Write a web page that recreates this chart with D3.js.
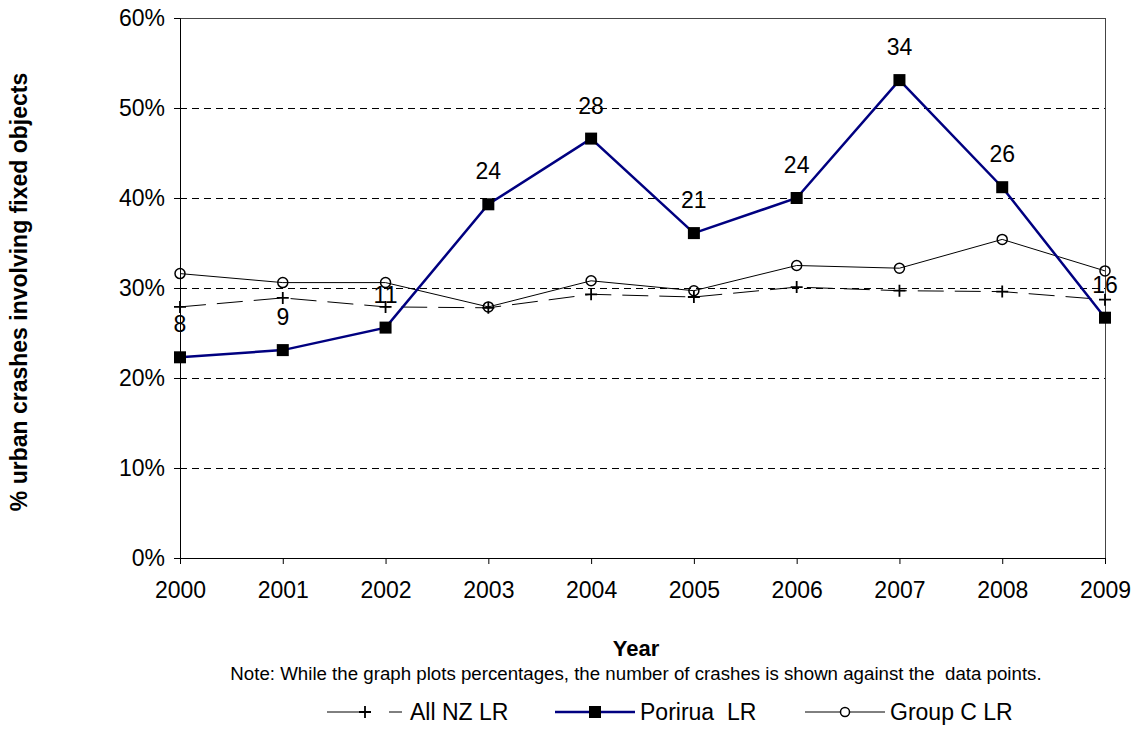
<!DOCTYPE html>
<html>
<head>
<meta charset="utf-8">
<style>
    body { margin: 0; background: #fff; }
    svg { font-family: 'Liberation Sans', Arial, sans-serif; }
    .tick text { font-size: 23px; fill: #000; }
    .grid line { stroke: #000; stroke-dasharray: 7,5; shape-rendering: crispEdges; }
    .dlabel { font-size: 23px; fill: #000; }
    .axis-title { font-size: 22px; font-weight: bold; }
    .note { font-size: 18.7px; }
    .legend text { font-size: 23px; }
</style>
</head>
<body>
<svg width="1136" height="744"></svg>
<script src="https://d3js.org/d3.v7.min.js"></script>
<script>
    let years = [2000, 2001, 2002, 2003, 2004, 2005, 2006, 2007, 2008, 2009];

    // share of urban crashes involving fixed objects
    let allNZ    = [0.279, 0.289, 0.279, 0.278, 0.293, 0.290, 0.301, 0.297, 0.296, 0.287];
    let porirua  = [0.223, 0.231, 0.256, 0.393, 0.466, 0.361, 0.400, 0.531, 0.412, 0.267];
    let groupC   = [0.316, 0.306, 0.306, 0.279, 0.308, 0.297, 0.325, 0.322, 0.354, 0.319];

    // number of crashes shown next to the Porirua points
    let crashCounts = [8, 9, 11, 24, 28, 21, 24, 34, 26, 16];

    let yTicks = [0, 0.1, 0.2, 0.3, 0.4, 0.5, 0.6];

    let margin = { top: 18, right: 31, bottom: 186, left: 180 };
    let width = 1136, height = 744;

    let svg = d3.select("svg");

    let x = d3.scaleLinear()
        .domain([2000, 2009])
        .range([margin.left, width - margin.right]);

    let y = d3.scaleLinear()
        .domain([0, 0.6])
        .range([height - margin.bottom, margin.top]);

    // dashed gridlines
    svg.append("g")
        .attr("class", "grid")
        .selectAll("line")
        .data(yTicks.filter(d => d > 0 && d < 0.6))
        .join("line")
        .attr("x1", x(2000))
        .attr("x2", x(2009))
        .attr("y1", d => y(d) + 0.5)
        .attr("y2", d => y(d) + 0.5);

    // frame top and right
    svg.append("rect")
        .attr("x", x(2000) + 0.5)
        .attr("y", y(0.6) + 0.5)
        .attr("width", x(2009) - x(2000))
        .attr("height", y(0) - y(0.6))
        .attr("fill", "none")
        .attr("stroke", "#444")
        .attr("stroke-width", 1);

    let yAxis = d3.axisLeft(y)
        .tickValues(yTicks)
        .tickSize(6)
        .tickPadding(9)
        .tickFormat(d3.format(".0%"));

    svg.append("g")
        .attr("transform", "translate(" + x(2000) + ",0)")
        .call(yAxis)
        .call(g => g.selectAll("line, .domain").attr("stroke", "#000"));

    let xAxis = d3.axisBottom(x)
        .tickValues(years)
        .tickSize(6)
        .tickPadding(18)
        .tickFormat(d3.format("d"));

    svg.append("g")
        .attr("transform", "translate(0," + y(0) + ")")
        .call(xAxis)
        .call(g => g.selectAll("line, .domain").attr("stroke", "#000"));

    let line = d3.line()
        .x((d, i) => x(years[i]))
        .y(d => y(d));

    svg.append("path")
        .datum(groupC)
        .attr("d", line)
        .attr("fill", "none")
        .attr("stroke", "#000")
        .attr("stroke-width", 1);

    svg.append("path")
        .datum(allNZ)
        .attr("d", line)
        .attr("fill", "none")
        .attr("stroke", "#000")
        .attr("stroke-width", 1)
        .attr("stroke-dasharray", "26,11");

    svg.append("path")
        .datum(porirua)
        .attr("d", line)
        .attr("fill", "none")
        .attr("stroke", "#000080")
        .attr("stroke-width", 2.5);

    // markers
    svg.append("g")
        .selectAll("circle")
        .data(groupC)
        .join("circle")
        .attr("cx", (d, i) => x(years[i]))
        .attr("cy", d => y(d))
        .attr("r", 5)
        .attr("fill", "none")
        .attr("stroke", "#000")
        .attr("stroke-width", 1.5);

    svg.append("g")
        .selectAll("path")
        .data(allNZ)
        .join("path")
        .attr("transform", (d, i) => "translate(" + x(years[i]) + "," + y(d) + ")")
        .attr("d", "M-6,0H6M0,-6V6")
        .attr("stroke", "#000")
        .attr("stroke-width", 1.8);

    svg.append("g")
        .selectAll("rect")
        .data(porirua)
        .join("rect")
        .attr("x", (d, i) => x(years[i]) - 6)
        .attr("y", d => y(d) - 6)
        .attr("width", 12)
        .attr("height", 12)
        .attr("fill", "#000");

    // crash count labels
    svg.append("g")
        .selectAll("text")
        .data(porirua)
        .join("text")
        .attr("class", "dlabel")
        .attr("x", (d, i) => x(years[i]))
        .attr("y", d => y(d) - 25)
        .attr("text-anchor", "middle")
        .text((d, i) => crashCounts[i]);

    // titles
    svg.append("text")
        .attr("class", "axis-title")
        .style("font-size", "23px")
        .attr("transform", "translate(27,292) rotate(-90)")
        .attr("text-anchor", "middle")
        .text("% urban crashes involving fixed objects");

    svg.append("text")
        .attr("class", "axis-title")
        .attr("x", 636)
        .attr("y", 656)
        .attr("text-anchor", "middle")
        .text("Year");

    svg.append("text")
        .attr("class", "note")
        .attr("x", 636)
        .attr("y", 680)
        .attr("text-anchor", "middle")
        .style("white-space", "pre")
        .text("Note: While the graph plots percentages, the number of crashes is shown against the  data points.");

    // legend
    let legend = svg.append("g").attr("class", "legend");
    let ly = 712;

    legend.append("line")
        .attr("x1", 327).attr("x2", 363).attr("y1", ly).attr("y2", ly)
        .attr("stroke", "#000");
    legend.append("line")
        .attr("x1", 389).attr("x2", 402).attr("y1", ly).attr("y2", ly)
        .attr("stroke", "#000");
    legend.append("path")
        .attr("transform", "translate(365," + ly + ")")
        .attr("d", "M-6,0H6M0,-6V6")
        .attr("stroke", "#000")
        .attr("stroke-width", 1.8);
    legend.append("text")
        .attr("x", 410).attr("y", ly + 8)
        .text("All NZ LR");

    legend.append("line")
        .attr("x1", 555).attr("x2", 635).attr("y1", ly).attr("y2", ly)
        .attr("stroke", "#000080")
        .attr("stroke-width", 2.5);
    legend.append("rect")
        .attr("x", 589).attr("y", ly - 6)
        .attr("width", 12).attr("height", 12)
        .attr("fill", "#000");
    legend.append("text")
        .attr("x", 640).attr("y", ly + 8)
        .style("white-space", "pre")
        .text("Porirua  LR");

    legend.append("line")
        .attr("x1", 805).attr("x2", 885).attr("y1", ly).attr("y2", ly)
        .attr("stroke", "#000");
    legend.append("circle")
        .attr("cx", 845).attr("cy", ly)
        .attr("r", 4.5)
        .attr("fill", "#fff")
        .attr("stroke", "#000")
        .attr("stroke-width", 1.5);
    legend.append("text")
        .attr("x", 890).attr("y", ly + 8)
        .text("Group C LR");
</script>
</body>
</html>
